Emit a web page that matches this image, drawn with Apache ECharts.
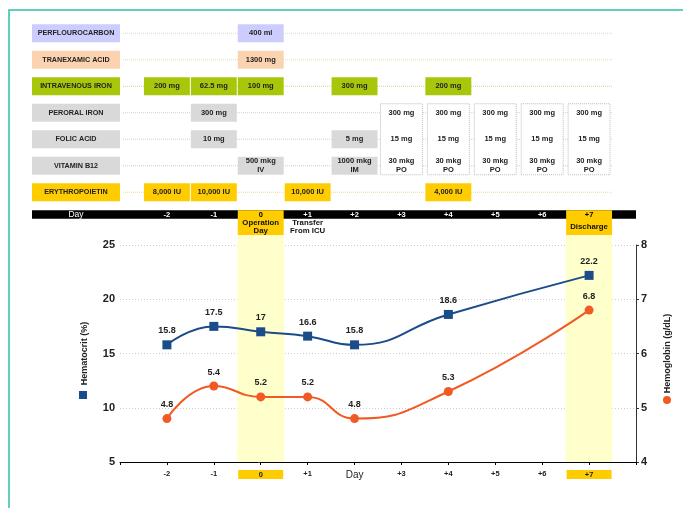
<!DOCTYPE html>
<html><head><meta charset="utf-8">
<script src="https://cdn.jsdelivr.net/npm/echarts@6/dist/echarts.min.js"></script>
<style>html,body{margin:0;padding:0;background:#fff}#c{width:683px;height:508px}</style>
</head><body><div id="c"></div>
<script>
// ---------- DATA ----------
const days = [-2, -1, 0, 1, 2, 3, 4, 5, 6, 7];
const dayLabels = ['-2', '-1', '0', '+1', '+2', '+3', '+4', '+5', '+6', '+7'];
const dayNotes = ['', '', 'Operation\nDay', 'Transfer\nFrom ICU', '', '', '', '', '', 'Discharge'];
const axisDayLabels = ['-2', '-1', '0', '+1', 'Day', '+3', '+4', '+5', '+6', '+7'];
const highlightDays = [0, 7];
const oralPhaseDays = [3, 4, 5, 6, 7];

const drugNames = ['PERFLOUROCARBON', 'TRANEXAMIC ACID', 'INTRAVENOUS IRON', 'PERORAL IRON', 'FOLIC ACID', 'VITAMIN B12', 'ERYTHROPOIETIN'];
const perfluorocarbon = [null, null, '400 ml', null, null, null, null, null, null, null];
const tranexamicAcid  = [null, null, '1300 mg', null, null, null, null, null, null, null];
const intravenousIron = ['200 mg', '62.5 mg', '100 mg', null, '300 mg', null, '200 mg', null, null, null];
const peroralIron     = [null, '300 mg', null, null, null, '300 mg', '300 mg', '300 mg', '300 mg', '300 mg'];
const folicAcid       = [null, '10 mg', null, null, '5 mg', '15 mg', '15 mg', '15 mg', '15 mg', '15 mg'];
const vitaminB12      = [null, null, '500 mkg\nIV', null, '1000 mkg\nIM', '30 mkg\nPO', '30 mkg\nPO', '30 mkg\nPO', '30 mkg\nPO', '30 mkg\nPO'];
const erythropoietin  = ['8,000 IU', '10,000 IU', null, '10,000 IU', null, null, '4,000 IU', null, null, null];
const oralRows = [3, 4, 5];

const hematocrit = [15.8, 17.5, 17, 16.6, 15.8, null, 18.6, null, null, 22.2];
const hemoglobin = [4.8, 5.4, 5.2, 5.2, 4.8, null, 5.3, null, null, 6.8];

const hctTicks = { min: 5, max: 25, interval: 5 };
const hbTicks = { min: 4, max: 8, interval: 1 };

// ---------- STYLE ----------
const FONT = '"Liberation Sans", Arial, sans-serif';
const rowColors = ['#ccccff', '#fcd3b0', '#a8c70a', '#d9d9d9', '#d9d9d9', '#d9d9d9', '#ffcc00'];
const rowLineColors = ['#d8d8c0', '#dcdcb0', '#c8d890', '#d0d0d0', '#d0d0d0', '#d0d0d0', '#ecdc90'];
const GOLD = '#ffcc00', PALE = '#ffffcc';
const BLUE = '#1b4c8a', ORANGE = '#f15a24';

const drugRows = [perfluorocarbon, tranexamicAcid, intravenousIron, peroralIron, folicAcid, vitaminB12, erythropoietin];
const items = [];
drugNames.forEach((n, r) => items.push({ kind: 'line', row: r }));
drugNames.forEach((n, r) => items.push({ kind: 'label', row: r, text: n }));
oralPhaseDays.forEach(d => items.push({ kind: 'oralBox', day: d }));
drugRows.forEach((vals, r) => vals.forEach((v, i) => {
  if (v == null) return;
  const oral = oralRows.includes(r) && oralPhaseDays.includes(days[i]);
  items.push({ kind: oral ? 'oralText' : 'cell', row: r, day: days[i], text: v });
}));
items.push({ kind: 'dayBar' });
items.push({ kind: 'dayTitle' });
days.forEach((d, i) => items.push({ kind: 'dayLabel', day: d, text: dayLabels[i], note: dayNotes[i], hl: highlightDays.includes(d) }));

function txt(x, y, text, opt) {
  return { type: 'text', x: x, y: y, z2: 10, style: Object.assign({
    text: text, fill: '#222', font: 'bold 7.5px ' + FONT, align: 'center', verticalAlign: 'middle', lineHeight: 9
  }, opt || {}) };
}

function renderTable(params, api) {
  const it = items[params.dataIndex];
  const unit = api.size([1, 1]);
  const cx = d => api.coord([d, 0])[0];
  const cy = r => api.coord([0, r])[1];
  const LW = 88, H = 18;
  const lx0 = cx(-3) - LW, lx1 = cx(-3);
  const barTop = cy(6) + H, barH = 8.5;
  switch (it.kind) {
    case 'line':
      return { type: 'line', shape: { x1: lx1 + 3, y1: cy(it.row), x2: cx(7.5), y2: cy(it.row) },
        style: { stroke: rowLineColors[it.row], lineWidth: 1, lineDash: [1, 1] } };
    case 'label':
      return { type: 'group', children: [
        { type: 'rect', shape: { x: lx0, y: cy(it.row) - H / 2, width: LW, height: H }, style: { fill: rowColors[it.row] } },
        txt((lx0 + lx1) / 2, cy(it.row), it.text, { font: 'bold 7.2px ' + FONT })
      ] };
    case 'cell':
      return { type: 'group', children: [
        { type: 'rect', shape: { x: cx(it.day - 0.5) + 0.5, y: cy(it.row) - H / 2, width: unit[0] - 1, height: H }, style: { fill: rowColors[it.row] } },
        txt(cx(it.day), cy(it.row), it.text)
      ] };
    case 'oralBox': {
      const y0 = cy(oralRows[0]) - H / 2, y1 = cy(oralRows[oralRows.length - 1]) + H / 2;
      return { type: 'rect', shape: { x: cx(it.day - 0.5) + 2.5, y: y0, width: unit[0] - 5, height: y1 - y0 },
        style: { fill: '#fff', stroke: '#bbbbbb', lineWidth: 1, lineDash: [1, 1] } };
    }
    case 'oralText':
      return txt(cx(it.day), cy(it.row), it.text);
    case 'dayBar':
      return { type: 'rect', shape: { x: lx0, y: barTop, width: cx(8) - lx0, height: barH }, style: { fill: '#000' } };
    case 'dayTitle':
      return txt((lx0 + lx1) / 2, barTop + barH / 2, 'Day', { fill: '#fff', font: 'normal 8.5px ' + FONT });
    case 'dayLabel': {
      const ch = [];
      const x0 = cx(it.day - 0.5) + 0.5, w = unit[0] - 1;
      if (it.hl) {
        ch.push({ type: 'rect', shape: { x: x0, y: barTop, width: w, height: 25 }, style: { fill: GOLD } });
        ch.push({ type: 'rect', shape: { x: x0, y: barTop + 25, width: w, height: cy(8) - barTop - 25 }, style: { fill: PALE } });
      }
      ch.push(txt(cx(it.day), barTop + barH / 2 + 0.5, it.text, { fill: it.hl ? '#000' : '#fff' }));
      if (it.note) ch.push(txt(cx(it.day), barTop + 16.7, it.note, { fill: '#111', lineHeight: 8, font: 'bold 7.8px ' + FONT }));
      return { type: 'group', children: ch };
    }
  }
}

const pairs = arr => days.map((d, i) => [d, arr[i]]).filter(p => p[1] != null);

const chart = echarts.init(document.getElementById('c'), null, { renderer: 'canvas' });
chart.setOption({
  animation: false,
  backgroundColor: '#fff',
  textStyle: { fontFamily: FONT },
  graphic: [{ type: 'rect', silent: true, shape: { x: 9, y: 10, width: 720, height: 540 }, style: { fill: null, stroke: '#2fbea6', lineWidth: 1.5 } }],
  grid: [
    { left: 26.18, right: 47, top: 20, height: 225.25 },
    { left: 120, right: 47, top: 245, bottom: 46 }
  ],
  legend: [
    { data: ['Hematocrit'], left: 79, top: 391, icon: 'rect', itemWidth: 8, itemHeight: 8, padding: 0, itemGap: 0, selectedMode: false, formatter: () => '', textStyle: { fontSize: 6 } },
    { data: ['Hemoglobin'], left: 663, top: 396, icon: 'circle', itemWidth: 8, itemHeight: 8, padding: 0, itemGap: 0, selectedMode: false, formatter: () => '', textStyle: { fontSize: 6 } }
  ],
  xAxis: [
    { gridIndex: 0, type: 'value', min: -5, max: 8, show: false },
    { gridIndex: 1, type: 'value', min: -3, max: 8, interval: 1,
      axisLine: { lineStyle: { color: '#000', width: 1 } },
      axisTick: { show: true, length: 3, lineStyle: { color: '#000' } },
      splitLine: { show: false },
      axisLabel: { margin: 8, showMinLabel: true, showMaxLabel: true,
        formatter: v => {
          const i = days.indexOf(v);
          if (i < 0) return '';
          const t = axisDayLabels[i];
          if (highlightDays.includes(v)) return '{hl|' + t + '}';
          if (t === 'Day') return '{day|Day}';
          return '{n|' + t + '}';
        },
        rich: {
          n: { fontSize: 7.5, fontWeight: 'bold', color: '#222', fontFamily: FONT },
          hl: { fontSize: 7.5, fontWeight: 'bold', color: '#222', backgroundColor: GOLD, width: 45, height: 9, lineHeight: 9, align: 'center', fontFamily: FONT },
          day: { fontSize: 10, color: '#222', fontFamily: FONT }
        } } }
  ],
  yAxis: [
    { gridIndex: 0, type: 'value', min: -0.5, max: 8, inverse: true, show: false },
    { gridIndex: 1, type: 'value', min: hctTicks.min, max: hctTicks.max, interval: hctTicks.interval,
      name: 'Hematocrit (%)', nameLocation: 'middle', nameRotate: 90, nameGap: 31,
      nameTextStyle: { fontSize: 9, fontWeight: 'bold', color: '#222', fontFamily: FONT },
      axisLine: { show: true, lineStyle: { color: '#333' } },
      axisTick: { show: true, length: 3, lineStyle: { color: '#333' } },
      minorTick: { show: true, splitNumber: 2, length: 3, lineStyle: { color: '#333' } },
      axisLabel: { fontSize: 11, fontWeight: 'bold', color: '#222', margin: 5 },
      splitLine: { show: true, lineStyle: { color: '#cccccc', type: [1, 2] } } },
    { gridIndex: 1, type: 'value', position: 'right', min: hbTicks.min, max: hbTicks.max, interval: hbTicks.interval,
      name: 'Hemoglobin (g/dL)', nameLocation: 'middle', nameRotate: 90, nameGap: 27,
      nameTextStyle: { fontSize: 9, fontWeight: 'bold', color: '#222', fontFamily: FONT },
      axisLine: { show: true, lineStyle: { color: '#333' } },
      axisTick: { show: true, length: 3, lineStyle: { color: '#333' } },
      axisLabel: { fontSize: 11, fontWeight: 'bold', color: '#222', margin: 5 },
      splitLine: { show: false } }
  ],
  series: [
    { type: 'custom', name: 'table', xAxisIndex: 0, yAxisIndex: 0, clip: false, silent: true,
      renderItem: renderTable, data: items.map((it, i) => [i]), encode: { x: -1, y: -1 } },
    { name: 'Hematocrit', type: 'line', xAxisIndex: 1, yAxisIndex: 1, data: pairs(hematocrit), smooth: 0.5,
      symbol: 'rect', symbolSize: 9, z: 4,
      lineStyle: { color: BLUE, width: 2 }, itemStyle: { color: BLUE },
      label: { show: true, position: 'top', distance: 5, color: '#222', fontWeight: 'bold', fontSize: 9, fontFamily: FONT },
      markArea: { silent: true, itemStyle: { color: PALE }, data: highlightDays.map(d => [{ xAxis: d - 0.5 }, { xAxis: d + 0.5 }]) } },
    { name: 'Hemoglobin', type: 'line', xAxisIndex: 1, yAxisIndex: 2, data: pairs(hemoglobin), smooth: 0.5,
      symbol: 'circle', symbolSize: 9, z: 4,
      lineStyle: { color: ORANGE, width: 2 }, itemStyle: { color: ORANGE },
      label: { show: true, position: 'top', distance: 5, color: '#222', fontWeight: 'bold', fontSize: 9, fontFamily: FONT } }
  ]
});
</script></body></html>
